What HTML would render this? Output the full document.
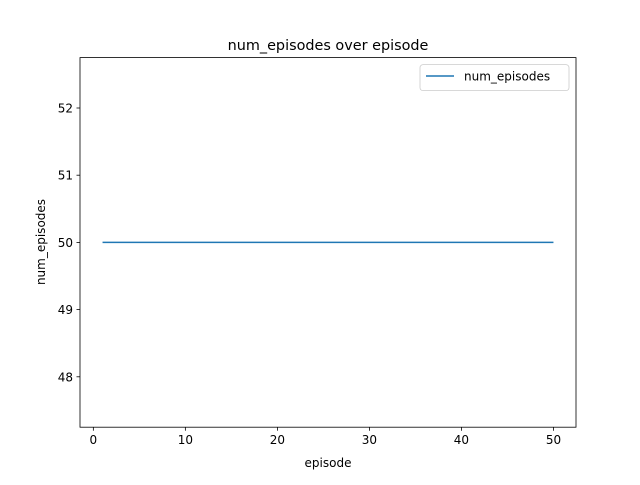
<!DOCTYPE html>
<html><head><meta charset="utf-8"><style>body{margin:0;background:#fff}svg{font-family:"DejaVu Sans","Liberation Sans",sans-serif}</style></head>
<body>
<svg id="c" width="640" height="480">
<rect x="0" y="0" width="640" height="480" fill="#fff"/>
<g id="plot"></g>
<rect x="80" y="57.6" width="496" height="369.6" fill="none" stroke="#000" stroke-width="0.8"/>
<text x="328" y="50" text-anchor="middle" font-size="14.4">num_episodes over episode</text>
<text x="328" y="467" text-anchor="middle" font-size="12">episode</text>
<text transform="translate(45,242) rotate(-90)" text-anchor="middle" font-size="12">num_episodes</text>
<g>
<rect x="420" y="64.6" width="149" height="26" rx="3" fill="#fff" stroke="#ccc" stroke-width="0.8"/>
<line x1="426" y1="76" x2="454" y2="76" stroke="#1f77b4" stroke-width="1.5"/>
<text x="464" y="80.5" font-size="12">num_episodes</text>
</g>
</svg>
<script>
const episodes=[];for(let i=1;i<=50;i++)episodes.push(i);
const numEpisodes=[50,50,50,50,50,50,50,50,50,50,50,50,50,50,50,50,50,50,50,50,50,50,50,50,50,50,50,50,50,50,50,50,50,50,50,50,50,50,50,50,50,50,50,50,50,50,50,50,50,50];
const xTicks=[0,10,20,30,40,50];
const yTicks=[48,49,50,51,52];
const L=80,R=576,T=57.6,B=427.2;
const xmin=-1.45,xmax=52.45,ymin=47.25,ymax=52.75;
const sx=v=>L+(v-xmin)/(xmax-xmin)*(R-L);
const sy=v=>B-(v-ymin)/(ymax-ymin)*(B-T);
const g=document.getElementById('plot');const NS='http://www.w3.org/2000/svg';
function mk(t,a){const e=document.createElementNS(NS,t);for(const k in a)e.setAttribute(k,a[k]);g.appendChild(e);return e;}
xTicks.forEach(v=>{const l=mk('line',{x1:sx(v),x2:sx(v),y1:B,y2:B+3.5,stroke:'#000','stroke-width':0.8});


const t=mk('text',{x:sx(v),y:B+17,'text-anchor':'middle','font-size':12});t.textContent=v;

});
yTicks.forEach(v=>{const l=mk('line',{x1:L-3.5,x2:L,y1:sy(v),y2:sy(v),stroke:'#000','stroke-width':0.8});


const t=mk('text',{x:L-7,y:sy(v)+4.5,'text-anchor':'end','font-size':12});t.textContent=v;

});
const p=mk('polyline',{points:episodes.map((e,i)=>sx(e)+','+sy(numEpisodes[i])).join(' '),fill:'none',stroke:'#1f77b4','stroke-width':1.5});


</script>
</body></html>
